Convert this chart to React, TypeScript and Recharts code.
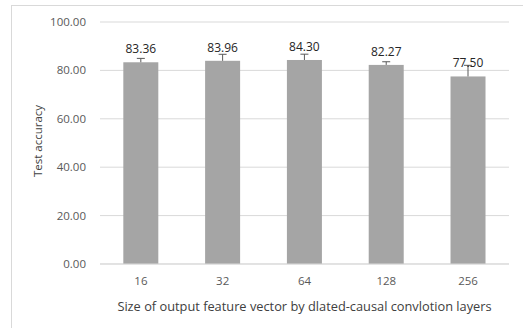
import { BarChart, Bar, XAxis, YAxis, CartesianGrid, LabelList, Label } from 'recharts';

const sizes = ['16', '32', '64', '128', '256'];
const accuracy = [83.36, 83.96, 84.3, 82.27, 77.5];
const errPlus = [1.6, 2.7, 2.4, 1.3, 4.6];
const yTicks = [0, 20, 40, 60, 80, 100];

const data = sizes.map((s, i) => ({ size: s, acc: accuracy[i], err: errPlus[i] }));

const font = '"Open Sans", "Liberation Sans", sans-serif';

// bar + plus-only error whisker (Excel style)
const BarWithErr = (props: any) => {
  const { x, y, width, height, payload, fill } = props;
  const perUnit = height / payload.acc;
  const top = y - payload.err * perUnit;
  const cx = x + width / 2;
  return (
    <g>
      <rect x={x} y={y} width={width} height={height} fill={fill} />
      <line x1={cx} x2={cx} y1={y} y2={top} stroke="#595959" strokeWidth={1} />
      <line x1={cx - 4} x2={cx + 4} y1={top} y2={top} stroke="#595959" strokeWidth={1} />
    </g>
  );
};

export default function App() {
  return (
    <div style={{ position: 'absolute', left: 0, top: 0, width: 523, height: 328, overflow: 'hidden', background: '#fff' }}>
      <div style={{ position: 'absolute', left: 11, top: 5, width: 600, height: 400, border: '1px solid #D9D9D9' }} />
      <div style={{ position: 'absolute', left: 0, top: 0 }}>
        <BarChart
          width={523}
          height={328}
          data={data}
          margin={{ top: 22, right: 14, bottom: 0, left: 0 }}
          barCategoryGap="28.5%"
          style={{ fontFamily: font }}
        >
          <CartesianGrid vertical={false} stroke="#D9D9D9" />
          <XAxis
            dataKey="size"
            height={64}
            tickLine={false}
            tickSize={0}
            tickMargin={13}
            axisLine={{ stroke: '#D9D9D9' }}
            tick={{ fill: '#595959', fontSize: 11.5 }}
          >
            <Label
              value="Size of output feature vector by dlated-causal convlotion layers"
              position="insideBottom"
              offset={17}
              fill="#404040"
              fontSize={12.8}
            />
          </XAxis>
          <YAxis
            width={100}
            domain={[0, 100]}
            ticks={yTicks}
            interval={0}
            axisLine={false}
            tickLine={false}
            tickSize={0}
            tickMargin={14}
            tickFormatter={(v: number) => v.toFixed(2)}
            tick={{ fill: '#595959', fontSize: 11.5 }}
          >
            <Label
              content={() => (
                <text
                  x={37}
                  y={141}
                  transform="rotate(-90, 37, 141)"
                  textAnchor="middle"
                  dominantBaseline="central"
                  fill="#404040"
                  fontSize={11.5}
                  fontFamily={font}
                >
                  Test accuracy
                </text>
              )}
            />
          </YAxis>
          <Bar dataKey="acc" fill="#A5A5A5" isAnimationActive={false} shape={<BarWithErr />}>
            <LabelList
              dataKey="acc"
              position="top"
              offset={9}
              fill="#262626"
              fontSize={12}
              formatter={(v: any) => Number(v).toFixed(2)}
            />
          </Bar>
        </BarChart>
      </div>
    </div>
  );
}
